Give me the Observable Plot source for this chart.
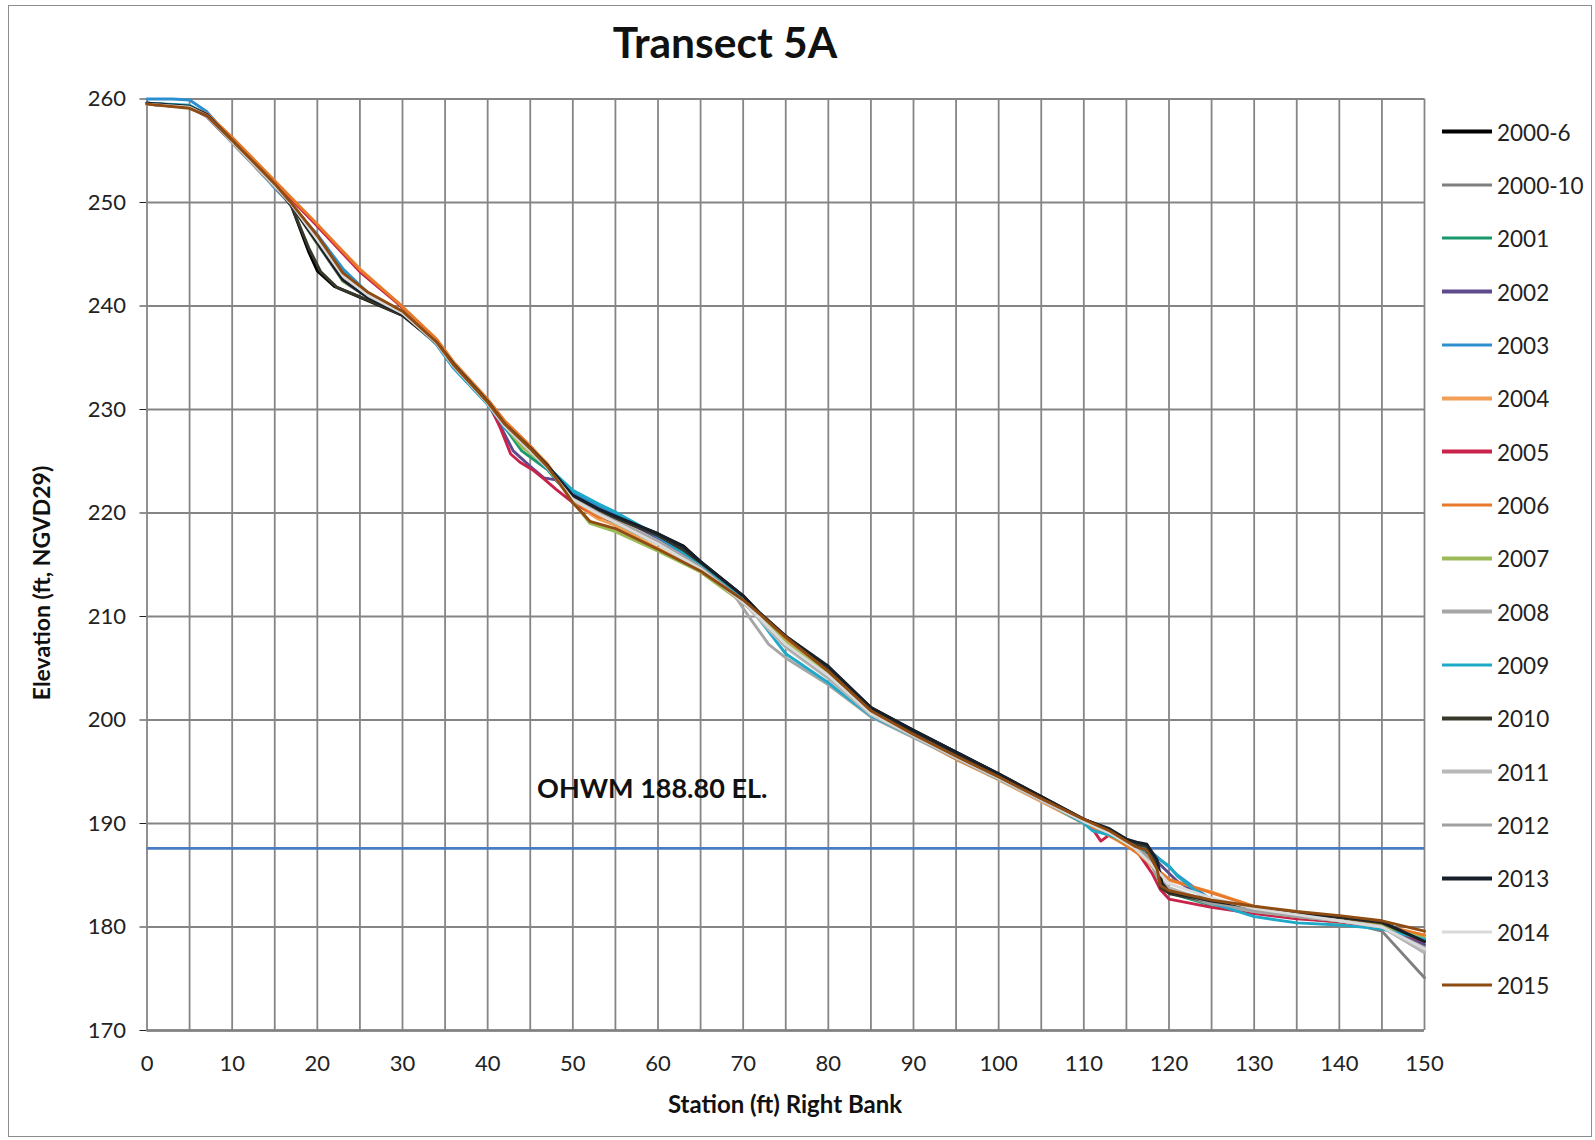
<!DOCTYPE html>
<html><head><meta charset="utf-8">
<script src="https://cdn.jsdelivr.net/npm/d3@7"></script>
<script src="https://cdn.jsdelivr.net/npm/@observablehq/plot@0.6"></script>
<style>
body{margin:0;background:#fff;}
#wrap{position:relative;width:1595px;height:1140px;font-family:Lato,"Open Sans",sans-serif;color:#1a1a1a;overflow:hidden;}
#wrap svg{position:absolute;left:0;top:0;}
.frame{position:absolute;left:8px;top:5px;width:1582px;height:1130px;border:1.5px solid #8c8c8c;}
.ctr{position:absolute;transform:translate(-50%,-50%);white-space:nowrap;line-height:1;}
.title{font-weight:700;font-size:42.5px;color:#111;}
.axt{font-weight:700;font-size:24px;color:#111;}
.axty{font-weight:700;font-size:23px;color:#111;}
.leg{position:absolute;left:1442px;display:flex;align-items:center;transform:translateY(-50%);font-size:22.5px;color:#222;}
.leg span.s{display:inline-block;width:50px;height:3.5px;margin-right:5px;}
</style></head><body><div id="wrap"><div class="frame"></div></div><script>
// ---- data (station ft, elevation ft) ----
const s2000_6=[[0,259.6],[5,259.3],[7,258.5],[10,256.0],[15,251.7],[17,249.6],[19,245.2],[20,243.4],[22,241.9],[26,240.5],[30,239.1],[34,236.4],[36,234.4],[40,230.8],[42,228.6],[45,226.2],[47,224.6],[50,221.8],[53,220.4],[55,219.6],[60,218.0],[63,216.8],[65,215.3],[70,212.0],[72,210.2],[75,208.0],[80,205.1],[85,201.2],[90,199.0],[95,196.9],[100,194.8],[105,192.6],[110,190.4],[113,189.4],[116,188.0],[118,186.9],[119,184.5],[120,183.6],[125,182.5],[130,181.8],[135,181.3],[140,180.9],[145,180.4],[150,178.8]];
const s2000_10=[[0,259.5],[5,259.2],[7,258.4],[10,255.9],[15,251.6],[17,249.7],[20,246.0],[23,242.4],[26,240.8],[30,239.2],[34,236.5],[36,234.3],[40,230.7],[42,228.5],[45,226.1],[47,224.4],[50,221.4],[53,220.0],[55,219.2],[60,217.2],[65,214.9],[70,211.7],[72,210.0],[75,207.6],[80,204.6],[85,200.8],[90,198.6],[95,196.4],[100,194.4],[105,192.3],[110,190.3],[113,189.3],[116,188.0],[118,186.2],[119,184.2],[120,183.4],[125,182.3],[130,181.6],[135,181.1],[140,180.6],[145,179.6],[150,175.1]];
const s2001=[[0,259.6],[5,259.3],[7,258.4],[10,255.8],[15,251.5],[17,249.8],[20,246.6],[23,243.2],[26,241.0],[30,239.3],[34,236.3],[36,234.1],[40,230.6],[42,228.3],[44,226.0],[47,224.2],[50,221.3],[53,219.8],[55,219.0],[60,217.0],[65,214.6],[70,211.6],[72,209.9],[75,207.4],[80,204.4],[85,200.7],[90,198.5],[95,196.4],[100,194.4],[105,192.3],[110,190.2],[113,189.1],[116,187.7],[118,186.0],[119,184.0],[120,183.3],[125,182.1],[130,181.4],[135,180.9],[140,180.5],[145,180.0],[150,178.9]];
const s2002=[[0,259.5],[5,259.2],[7,258.3],[10,255.8],[15,251.5],[17,249.8],[20,246.8],[23,243.4],[26,241.2],[30,239.4],[34,236.4],[36,234.2],[40,230.6],[41.5,228.4],[43,226.0],[45,224.5],[46.6,223.4],[48,223.2],[50,221.6],[53,220.5],[55,219.7],[60,217.6],[65,215.0],[70,211.8],[72,210.1],[75,207.8],[80,204.9],[85,201.0],[90,198.7],[95,196.6],[100,194.6],[105,192.5],[110,190.4],[113,189.4],[115,188.4],[117,187.9],[119,186.0],[120,185.2],[121,184.4],[125,182.5],[130,181.6],[135,181.1],[140,180.6],[145,180.1],[150,178.3]];
const s2003=[[0,260.0],[3,260.0],[5,259.9],[7,258.8],[10,256.0],[15,251.4],[17,249.7],[20,246.9],[23,243.6],[26,241.2],[30,239.4],[34,236.3],[36,234.0],[40,230.5],[42,228.2],[45,225.9],[47,224.3],[50,222.0],[53,220.7],[55,219.9],[60,217.7],[65,215.0],[70,211.7],[72,210.0],[75,207.2],[80,204.2],[85,200.6],[90,198.4],[95,196.3],[100,194.3],[105,192.3],[110,190.3],[111,189.6],[113,188.9],[116,188.0],[118,187.2],[120,185.8],[121,185.0],[125,182.6],[130,181.4],[135,180.9],[140,180.5],[145,180.0],[150,178.8]];
const s2004=[[0,259.5],[5,259.2],[7,258.5],[10,256.1],[15,251.9],[17,250.2],[20,247.8],[25,243.6],[29.5,240.3],[34,236.7],[36,234.5],[40,230.9],[42,228.8],[45,226.4],[47,224.8],[50,221.0],[53,219.4],[55,218.8],[60,216.6],[65,214.3],[70,211.4],[72,209.9],[75,207.6],[80,204.6],[85,200.7],[90,198.4],[95,196.2],[100,194.2],[105,192.1],[110,190.0],[113,188.8],[116,187.4],[118,185.8],[120,184.5],[125,183.4],[130,182.0],[135,181.0],[140,180.4],[145,180.0],[150,179.2]];
const s2005=[[0,259.6],[5,259.3],[7,258.6],[10,256.2],[15,252.0],[17,250.3],[20,247.7],[25,243.3],[29.5,240.2],[34,236.6],[36,234.4],[40,230.8],[41.5,228.2],[42.7,225.7],[43.8,224.9],[45.4,224.1],[46.6,223.3],[48,222.3],[50,221.0],[53,219.7],[55,219.2],[60,217.1],[65,214.6],[70,211.5],[72,210.1],[75,208.0],[80,204.8],[85,201.0],[90,198.6],[95,196.4],[100,194.4],[105,192.3],[110,190.2],[111,189.5],[112,188.3],[113,188.9],[116,187.6],[118,185.2],[119,183.6],[120,182.7],[125,181.9],[130,181.3],[135,180.8],[140,180.5],[145,180.0],[150,178.6]];
const s2006=[[0,259.6],[5,259.3],[7,258.6],[10,256.3],[15,252.1],[17,250.4],[20,247.9],[25,243.5],[29.5,240.3],[34,236.8],[36,234.6],[40,231.0],[42,228.9],[45,226.5],[47,224.7],[50,221.2],[53,219.6],[55,219.3],[60,217.2],[65,214.7],[70,211.6],[72,210.2],[75,207.9],[80,204.7],[85,200.8],[90,198.4],[95,196.2],[100,194.3],[105,192.2],[110,190.1],[112,189.2],[114,188.4],[116,187.3],[118,186.0],[120,184.6],[125,183.3],[130,182.0],[135,181.2],[140,180.7],[145,180.2],[150,179.2]];
const s2007=[[0,259.5],[5,259.2],[7,258.4],[10,255.9],[15,251.7],[17,249.8],[20,246.0],[21.5,244.4],[23,242.4],[26,241.1],[30,239.5],[34,236.4],[36,234.2],[40,230.6],[42,228.4],[44,226.4],[47,224.5],[50,221.1],[52,219.0],[55,218.2],[60,216.3],[65,214.3],[70,211.3],[72,209.9],[75,207.5],[80,204.5],[85,200.8],[90,198.5],[95,196.3],[100,194.3],[105,192.2],[110,190.2],[113,189.0],[116,187.6],[118,186.0],[119,184.2],[120,183.5],[125,182.3],[130,181.5],[135,181.0],[140,180.6],[145,180.1],[150,178.9]];
const s2008=[[0,259.5],[5,259.2],[7,258.4],[10,255.8],[15,251.5],[17,249.7],[20,246.4],[23,242.9],[26,240.9],[30,239.3],[34,236.3],[36,234.1],[40,230.6],[42,228.4],[45,226.0],[47,224.4],[50,221.5],[53,220.1],[55,219.3],[60,217.3],[65,214.8],[69,212.0],[71,209.6],[73,207.3],[75,206.0],[80,203.4],[85,200.3],[90,198.3],[95,196.3],[100,194.3],[105,192.2],[110,190.2],[113,189.1],[116,187.7],[118,186.1],[119,184.1],[120,183.4],[125,182.2],[130,181.5],[135,181.0],[140,180.6],[145,180.0],[150,177.5]];
const s2009=[[0,259.6],[5,259.4],[7,258.5],[10,255.9],[15,251.5],[17,249.7],[20,246.6],[23,243.3],[26,241.1],[30,239.3],[34,236.3],[36,234.0],[40,230.5],[42,228.3],[45,226.1],[47,224.5],[50,222.2],[53,220.9],[55,220.1],[60,217.8],[65,215.1],[70,211.8],[72,209.6],[75,206.4],[80,203.6],[85,200.4],[90,198.4],[95,196.3],[100,194.3],[105,192.3],[110,190.0],[111,189.3],[113,188.9],[116,187.9],[118,187.0],[120,185.9],[121,184.9],[125,182.3],[130,181.0],[135,180.4],[140,180.2],[145,179.8],[150,178.8]];
const s2010=[[0,259.5],[5,259.2],[7,258.5],[10,256.0],[15,251.7],[17,249.6],[19,245.6],[20.4,243.3],[22.3,241.8],[26.2,240.5],[30,239.1],[34,236.5],[36,234.4],[40,230.8],[42,228.6],[45,226.3],[47,224.6],[50,221.6],[53,220.3],[55,219.5],[60,217.8],[63,216.4],[65,215.2],[70,212.0],[72,210.3],[75,208.1],[80,205.0],[85,201.1],[90,198.9],[95,196.8],[100,194.7],[105,192.5],[110,190.4],[113,189.4],[116,188.0],[117.4,187.8],[118.6,185.8],[119,183.8],[120.1,183.2],[125,182.4],[130,181.8],[135,181.3],[140,180.9],[145,180.4],[150,178.6]];
const s2011=[[0,259.5],[5,259.2],[7,258.4],[10,255.9],[15,251.6],[17,249.8],[20,246.3],[23,242.8],[26,241.0],[30,239.4],[34,236.4],[36,234.2],[40,230.6],[42,228.4],[45,226.0],[47,224.4],[50,221.3],[53,219.9],[55,219.1],[60,217.0],[65,214.6],[70,211.4],[72,209.6],[75,207.0],[80,204.0],[85,200.5],[90,198.4],[95,196.3],[100,194.3],[105,192.2],[110,190.2],[113,189.1],[116,187.7],[118,186.2],[119,184.6],[120,183.8],[125,182.4],[130,181.6],[135,181.1],[140,180.6],[145,180.0],[150,177.6]];
const s2012=[[0,259.5],[5,259.2],[7,258.4],[10,255.8],[15,251.5],[17,249.7],[20,246.2],[23,242.7],[26,240.9],[30,239.3],[34,236.4],[36,234.2],[40,230.7],[42,228.5],[45,226.1],[47,224.5],[50,221.4],[53,220.0],[55,219.2],[60,217.1],[65,214.7],[70,211.5],[72,209.8],[75,207.2],[80,204.2],[85,200.6],[90,198.5],[95,196.4],[100,194.4],[105,192.3],[110,190.2],[113,189.2],[116,187.8],[118,186.4],[119,184.4],[120,183.6],[125,182.3],[130,181.6],[135,181.0],[140,180.6],[145,180.0],[150,178.0]];
const s2013=[[0,259.6],[5,259.3],[7,258.5],[10,256.0],[15,251.6],[17,249.7],[20,246.1],[23,242.5],[26,240.8],[30,239.2],[34,236.4],[36,234.3],[40,230.7],[42,228.5],[45,226.2],[47,224.6],[50,221.7],[53,220.4],[55,219.7],[60,218.0],[63,216.7],[65,215.3],[70,212.0],[72,210.3],[75,208.1],[80,205.2],[85,201.2],[90,199.0],[95,196.9],[100,194.8],[105,192.6],[110,190.4],[113,189.5],[115,188.5],[116.2,188.2],[117.4,188.0],[118.6,186.5],[119.2,184.2],[120,183.4],[125,182.5],[130,181.9],[135,181.4],[140,181.0],[145,180.5],[150,178.6]];
const s2014=[[0,259.5],[5,259.2],[7,258.4],[10,255.9],[15,251.6],[17,249.8],[20,246.4],[23,242.9],[26,241.0],[30,239.3],[34,236.4],[36,234.2],[40,230.6],[42,228.4],[45,226.0],[47,224.4],[50,221.3],[53,219.9],[55,219.1],[60,217.0],[65,214.6],[70,211.4],[72,209.8],[75,207.3],[80,204.3],[85,200.6],[90,198.5],[95,196.4],[100,194.4],[105,192.3],[110,190.2],[113,189.1],[116,187.6],[118,186.0],[120,184.2],[125,182.8],[130,181.8],[135,181.2],[140,180.6],[145,180.0],[150,177.9]];
const s2015=[[0,259.5],[5,259.1],[7,258.4],[10,256.0],[15,251.8],[17,249.9],[20,246.8],[23,243.2],[26,241.3],[30,239.5],[34,236.5],[36,234.3],[40,230.7],[42,228.6],[45,226.2],[47,224.5],[48.5,222.8],[50,221.0],[52,219.2],[55,218.5],[60,216.5],[65,214.4],[70,211.6],[72,210.2],[75,208.0],[80,204.7],[85,200.9],[90,198.6],[95,196.5],[100,194.5],[105,192.4],[110,190.4],[113,189.3],[116,187.8],[117.4,187.4],[118.6,185.6],[119,184.0],[120,183.5],[125,182.6],[130,182.0],[135,181.5],[140,181.1],[145,180.6],[150,179.6]];

const seriesNames=["2000-6","2000-10","2001","2002","2003","2004","2005","2006","2007","2008","2009","2010","2011","2012","2013","2014","2015"];
const seriesData=[s2000_6,s2000_10,s2001,s2002,s2003,s2004,s2005,s2006,s2007,s2008,s2009,s2010,s2011,s2012,s2013,s2014,s2015];
const seriesColors=["#000000","#7f7f7f","#1a9a6c","#5f4b8b","#2e8fd0","#f2a057","#c8234a","#e8782a","#9cbb58","#a6a6a6","#1fa9c9","#38382a","#b8b8b8","#a0a0a0","#17202a","#dadada","#8e4b12"];

const xTicks=[0,10,20,30,40,50,60,70,80,90,100,110,120,130,140,150];
const xGrid=[0,5,10,15,20,25,30,35,40,45,50,55,60,65,70,75,80,85,90,95,100,105,110,115,120,125,130,135,140,145,150];
const yTicks=[170,180,190,200,210,220,230,240,250,260];
const ohwmElev=[187.6];
const ohwmLabel=[{station:45.8,elev:193.3,text:"OHWM 188.80 EL."}];
const titleText="Transect 5A";
const xTitle="Station (ft) Right Bank";
const yTitle="Elevation (ft, NGVD29)";

const rows=seriesData.flatMap((pts,i)=>pts.map(([s,e])=>({series:seriesNames[i],station:s,elev:e})));

const chart=Plot.plot({
  width:1595,height:1140,
  marginLeft:146.5,marginRight:171,marginTop:98.5,marginBottom:110,
  style:{fontFamily:"Lato, sans-serif",fontSize:"22px",color:"#222",background:"transparent"},
  x:{domain:[0,150],ticks:xTicks,tickSize:0,tickPadding:25,label:null},
  y:{domain:[170,260],ticks:yTicks,tickSize:7,tickPadding:14,label:null},
  color:{domain:seriesNames,range:seriesColors},
  marks:[
    Plot.ruleX(xGrid,{stroke:"#858585",strokeWidth:1.8}),
    Plot.ruleY(yTicks,{stroke:"#858585",strokeWidth:1.8}),
    Plot.ruleY([170],{stroke:"#808080",strokeWidth:2.3}),
    Plot.ruleY(ohwmElev,{stroke:"#4a7cc4",strokeWidth:2.6}),
    Plot.line(rows,{x:"station",y:"elev",z:"series",stroke:"series",strokeWidth:2.9,strokeLinejoin:"round"}),
    Plot.text(ohwmLabel,{x:"station",y:"elev",text:"text",textAnchor:"start",fontSize:27,fontWeight:700,fill:"#111"})
  ]
});
const wrap=document.getElementById("wrap");
wrap.appendChild(chart);

function addText(cls,txt,x,y,extra){const d=document.createElement("div");d.className="ctr "+cls;d.textContent=txt;d.style.left=x+"px";d.style.top=y+"px";if(extra)d.style.transform=extra;wrap.appendChild(d);}
addText("title",titleText,725,42);
addText("axt",xTitle,785,1104);
addText("axty",yTitle,41,583,"translate(-50%,-50%) rotate(-90deg)");

seriesNames.forEach((n,i)=>{
  const d=document.createElement("div");d.className="leg";
  d.style.top=(131.5+i*53.35)+"px";
  const s=document.createElement("span");s.className="s";s.style.background=seriesColors[i];
  d.appendChild(s);d.appendChild(document.createTextNode(n));wrap.appendChild(d);
});
</script></body></html>
